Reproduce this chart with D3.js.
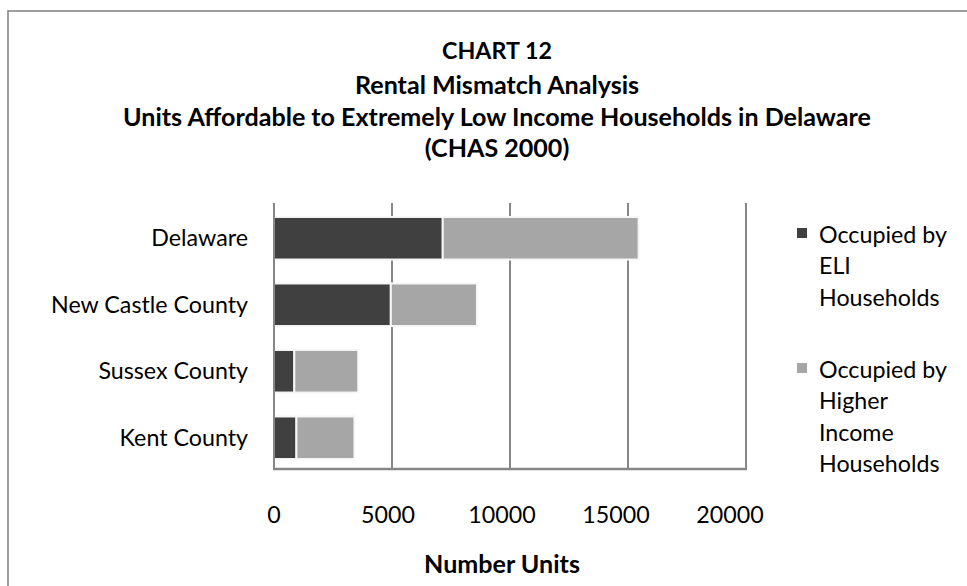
<!DOCTYPE html>
<html>
<head>
<meta charset="utf-8">
<script src="https://cdn.jsdelivr.net/npm/d3@7"></script>
<style>
  html, body { margin: 0; padding: 0; background: #fff; }
  svg { display: block; font-family: Lato, "Open Sans", sans-serif; }
</style>
</head>
<body>
<svg id="chart" width="967" height="586"></svg>
<script>
// Rental mismatch: units affordable to ELI households, by area
const categories = ["Delaware", "New Castle County", "Sussex County", "Kent County"];
const eliUnits = [7150, 4950, 860, 950];          // occupied by ELI households
const higherUnits = [8300, 3650, 2710, 2460];     // occupied by higher income households
const seriesKeys = ["eli", "higher"];
const seriesColors = ["#404040", "#a6a6a6"];
const legendLines = [
  ["Occupied by", "ELI", "Households"],
  ["Occupied by", "Higher", "Income", "Households"]
];
const xTicks = [0, 5000, 10000, 15000, 20000];
const titleLines = [
  "CHART 12",
  "Rental Mismatch Analysis",
  "Units Affordable to Extremely Low Income Households in Delaware",
  "(CHAS 2000)"
];
const xAxisTitle = "Number Units";

const rows = categories.map((c, i) => ({ category: c, eli: eliUnits[i], higher: higherUnits[i] }));

const svg = d3.select("#chart");
const gridColor = "#878787";

// outer chart frame (runs off the right and bottom edges)
svg.append("rect")
  .attr("x", 8).attr("y", 11)
  .attr("width", 1000).attr("height", 620)
  .attr("fill", "none")
  .attr("stroke", gridColor)
  .attr("stroke-width", 1.6);

// helper: size a group of texts so a reference string spans a given width
function fitSize(sample, weight, target) {
  const t = svg.append("text").attr("font-size", 20).attr("font-weight", weight).text(sample);
  const w = t.node().getComputedTextLength();
  t.remove();
  return 20 * target / w;
}
const bodySize = fitSize("New Castle County", 400, 197);
const titleSize = fitSize(titleLines[2], 700, 748);
const headSize = fitSize(titleLines[0], 700, 110);

const plot = { left: 274, right: 746, top: 203, bottom: 469 };

const x = d3.scaleLinear().domain([0, 20000]).range([plot.left, plot.right]);
const xLabel = d3.scaleLinear().domain([0, 20000]).range([plot.left, plot.right - 16]);
const y = d3.scaleBand().domain(categories).range([plot.top + 2, plot.bottom + 2]).paddingInner(0.36).paddingOuter(0.18);

// vertical gridlines
svg.append("g")
  .selectAll("line")
  .data(xTicks.filter(d => d > 0))
  .join("line")
  .attr("x1", d => x(d)).attr("x2", d => x(d))
  .attr("y1", plot.top).attr("y2", plot.bottom)
  .attr("stroke", gridColor)
  .attr("stroke-width", 2);

// stacked bars
const stack = d3.stack().keys(seriesKeys)(rows);
svg.append("g")
  .selectAll("g")
  .data(stack)
  .join("g")
  .attr("fill", (d, i) => seriesColors[i])
  .selectAll("rect")
  .data(d => d)
  .join("rect")
  .attr("x", d => x(d[0]))
  .attr("width", d => x(d[1]) - x(d[0]))
  .attr("y", d => y(d.data.category))
  .attr("height", y.bandwidth())
  .attr("stroke", "#f6f6f6")
  .attr("stroke-width", 2);

// axis lines
svg.append("line")
  .attr("x1", plot.left).attr("x2", plot.left)
  .attr("y1", plot.top).attr("y2", plot.bottom)
  .attr("stroke", gridColor).attr("stroke-width", 2);
svg.append("line")
  .attr("x1", plot.left - 1).attr("x2", plot.right + 1)
  .attr("y1", plot.bottom).attr("y2", plot.bottom)
  .attr("stroke", gridColor).attr("stroke-width", 2.5);

// category labels
svg.append("g")
  .selectAll("text")
  .data(categories)
  .join("text")
  .attr("x", 248)
  .attr("y", d => y(d) + y.bandwidth() / 2)
  .attr("dy", "0.35em")
  .attr("text-anchor", "end")
  .attr("font-size", bodySize)
  .attr("fill", "#000")
  .text(d => d);

// x tick labels
svg.append("g")
  .selectAll("text")
  .data(xTicks)
  .join("text")
  .attr("x", d => xLabel(d))
  .attr("y", 523)
  .attr("text-anchor", "middle")
  .attr("font-size", bodySize)
  .attr("fill", "#000")
  .text(d => d);

// x axis title
svg.append("text")
  .attr("x", 502).attr("y", 573)
  .attr("text-anchor", "middle")
  .attr("font-size", titleSize)
  .attr("font-weight", 700)
  .text(xAxisTitle);

// chart title
const titleBaselines = [59, 94, 126, 157];
svg.append("g")
  .selectAll("text")
  .data(titleLines)
  .join("text")
  .attr("x", 497)
  .attr("y", (d, i) => titleBaselines[i])
  .attr("text-anchor", "middle")
  .attr("font-weight", 700)
  .attr("font-size", (d, i) => i === 0 ? headSize : titleSize)
  .text(d => d);

// legend
const legendTop = [228, 363];
const lineStep = 31.3;
const legend = svg.append("g");
legendLines.forEach((lines, i) => {
  legend.append("rect")
    .attr("x", 797).attr("y", legendTop[i])
    .attr("width", 10).attr("height", 10)
    .attr("fill", seriesColors[i]);
  legend.append("text")
    .attr("x", 819)
    .attr("font-size", bodySize)
    .selectAll("tspan")
    .data(lines)
    .join("tspan")
    .attr("x", 819)
    .attr("y", (d, j) => legendTop[i] + 7 + j * lineStep)
    .attr("dy", "0.35em")
    .text(d => d);
});
</script>
</body>
</html>
